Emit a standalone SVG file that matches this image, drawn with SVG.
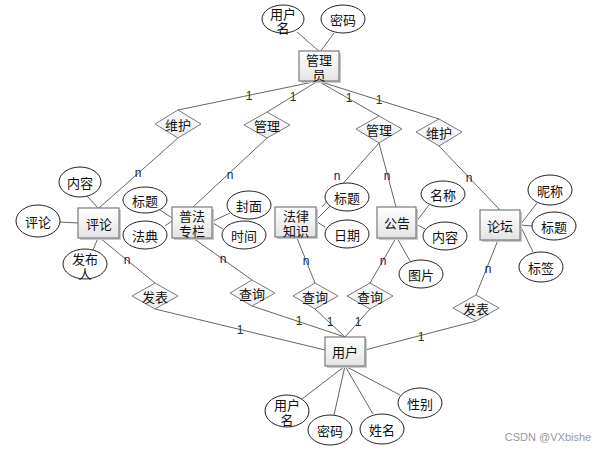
<svg xmlns="http://www.w3.org/2000/svg" width="610" height="451" viewBox="0 0 610 451">
<defs>
<linearGradient id="gb" x1="0" y1="0" x2="0" y2="1"><stop offset="0" stop-color="#ffffff"/><stop offset="1" stop-color="#e4e4e4"/></linearGradient>
<linearGradient id="gd" x1="0" y1="0" x2="0" y2="1"><stop offset="0" stop-color="#ffffff"/><stop offset="1" stop-color="#ececec"/></linearGradient>
</defs>
<style>
text{font-family:"Noto Sans CJK SC","Liberation Sans",sans-serif;font-size:13px;fill:#111;text-anchor:middle;dominant-baseline:central}
.lbl{font-family:"Liberation Sans",sans-serif;font-size:12px}
.n{fill:#1a1a5a}
.one{fill:#1a3a1a}
.box{fill:url(#gb);stroke:#7a7a7a;stroke-width:1.2}
.sh{fill:#c8c8c8}
.dia{fill:url(#gd);stroke:#7a7a7a;stroke-width:1}
.att{fill:#fff;stroke:#222;stroke-width:1}
.ln{stroke:#666;stroke-width:1;fill:none}
</style>
<rect width="610" height="451" fill="#fff"/>
<g id="connectors">
<path class="ln" d="M297,32L320,52M334,33L320,52"/>
<path class="ln" d="M318,81L178,110M318,81L267,112M318,81L379,116M318,81L439,119"/>
<path class="ln" d="M178,138L99,208M267,138L193,207M379,143L322,207M379,143L396,207M439,146L500,210"/>
<path class="ln" d="M87,196L98,208M60,222L78,223M93,250L98,238"/>
<path class="ln" d="M160,210L172,218M165,226L172,221M230,213L213,221M223,229L213,223"/>
<path class="ln" d="M330,206L317,219M325,227L317,222"/>
<path class="ln" d="M429,205L416,222M425,229L416,224M410,261L397,238"/>
<path class="ln" d="M537,203L520,225M532,226L520,225M533,252L520,225"/>
<path class="ln" d="M302,399L345,366M334,415L345,366M373,414L345,366M400,395L345,366"/>
<path class="ln" d="M100,238L155,283M155,309L325,350M193,238L252,280M252,306L345,337M297,238L315,283M315,309L345,337M396,238L370,283M370,309L345,337M498,240L476,295M476,321L365,350"/>
<text class="lbl one" x="249" y="96">1</text>
<text class="lbl one" x="293" y="97">1</text>
<text class="lbl one" x="349" y="98">1</text>
<text class="lbl one" x="379" y="100">1</text>
<text class="lbl n" x="138" y="173">n</text>
<text class="lbl n" x="230" y="175">n</text>
<text class="lbl n" x="337" y="176">n</text>
<text class="lbl n" x="387" y="176">n</text>
<text class="lbl n" x="469" y="178">n</text>
<text class="lbl n" x="127" y="260">n</text>
<text class="lbl n" x="223" y="259">n</text>
<text class="lbl n" x="306" y="261">n</text>
<text class="lbl n" x="383" y="261">n</text>
<text class="lbl n" x="488" y="269">n</text>
<text class="lbl one" x="240" y="330">1</text>
<text class="lbl one" x="299" y="321">1</text>
<text class="lbl one" x="330" y="322">1</text>
<text class="lbl one" x="358" y="322">1</text>
<text class="lbl one" x="421" y="337">1</text>
</g>
<g id="guanliyuan"><rect class="sh" x="301" y="53" width="40" height="30"/><rect class="box" x="299" y="51" width="40" height="30"/><text x="319" y="59">管理<tspan x="319" dy="15">员</tspan></text></g>
<g id="pinglun"><rect class="sh" x="80" y="210" width="41" height="30"/><rect class="box" x="78" y="208" width="41" height="30"/><text x="99" y="223">评论</text></g>
<g id="pufa"><rect class="sh" x="174" y="209" width="40" height="31"/><rect class="box" x="172" y="207" width="40" height="31"/><text x="192" y="215">普法<tspan x="192" dy="15">专栏</tspan></text></g>
<g id="falv"><rect class="sh" x="277" y="209" width="41" height="30"/><rect class="box" x="275" y="207" width="41" height="30"/><text x="296" y="215">法律<tspan x="296" dy="15">知识</tspan></text></g>
<g id="gonggao"><rect class="sh" x="379" y="209" width="39" height="31"/><rect class="box" x="377" y="207" width="39" height="31"/><text x="397" y="222">公告</text></g>
<g id="luntan"><rect class="sh" x="482" y="212" width="40" height="30"/><rect class="box" x="480" y="210" width="40" height="30"/><text x="500" y="225">论坛</text></g>
<g id="yonghu"><rect class="sh" x="327" y="339" width="40" height="29"/><rect class="box" x="325" y="337" width="40" height="29"/><text x="345" y="351">用户</text></g>
<g id="d_weihu1"><polygon class="dia" points="155,124 178,110 201,124 178,138"/><text x="178" y="124">维护</text></g>
<g id="d_guanli1"><polygon class="dia" points="244,125 267,112 290,125 267,138"/><text x="267" y="125">管理</text></g>
<g id="d_guanli2"><polygon class="dia" points="356,129 379,116 402,129 379,143"/><text x="379" y="129">管理</text></g>
<g id="d_weihu2"><polygon class="dia" points="416,132 439,119 462,132 439,146"/><text x="439" y="132">维护</text></g>
<g id="d_fabiao1"><polygon class="dia" points="132,296 155,283 178,296 155,309"/><text x="155" y="296">发表</text></g>
<g id="d_chaxun1"><polygon class="dia" points="230,293 252,280 275,293 252,306"/><text x="252" y="293">查询</text></g>
<g id="d_chaxun2"><polygon class="dia" points="293,296 315,283 338,296 315,309"/><text x="315" y="296">查询</text></g>
<g id="d_chaxun3"><polygon class="dia" points="347,296 370,283 393,296 370,309"/><text x="370" y="296">查询</text></g>
<g id="d_fabiao2"><polygon class="dia" points="453,308 476,295 499,308 476,321"/><text x="476" y="308">发表</text></g>
<g id="a_gly_name"><ellipse class="att" cx="283" cy="19" rx="21" ry="14"/><text x="283" y="13">用户<tspan x="283" dy="14">名</tspan></text></g>
<g id="a_gly_pwd"><ellipse class="att" cx="343" cy="19" rx="22" ry="14"/><text x="343" y="19">密码</text></g>
<g id="a_pl_nr"><ellipse class="att" cx="80" cy="182" rx="21" ry="15"/><text x="80" y="182">内容</text></g>
<g id="a_pl_pl"><ellipse class="att" cx="38" cy="221" rx="22" ry="16"/><text x="38" y="221">评论</text></g>
<g id="a_pl_fbr"><ellipse class="att" cx="85" cy="264" rx="22" ry="15"/><text x="85" y="258">发布<tspan x="85" dy="15">人</tspan></text></g>
<g id="a_pf_bt"><ellipse class="att" cx="145" cy="200" rx="22" ry="13"/><text x="145" y="200">标题</text></g>
<g id="a_pf_fd"><ellipse class="att" cx="145" cy="235" rx="22" ry="14"/><text x="145" y="235">法典</text></g>
<g id="a_pf_fm"><ellipse class="att" cx="249" cy="205" rx="22" ry="14"/><text x="249" y="205">封面</text></g>
<g id="a_pf_sj"><ellipse class="att" cx="244" cy="235" rx="22" ry="14"/><text x="244" y="235">时间</text></g>
<g id="a_fl_bt"><ellipse class="att" cx="347" cy="197" rx="22" ry="14"/><text x="347" y="197">标题</text></g>
<g id="a_fl_rq"><ellipse class="att" cx="347" cy="234" rx="22" ry="14"/><text x="347" y="234">日期</text></g>
<g id="a_gg_mc"><ellipse class="att" cx="443" cy="194" rx="22" ry="13"/><text x="443" y="194">名称</text></g>
<g id="a_gg_nr"><ellipse class="att" cx="445" cy="236" rx="22" ry="14"/><text x="445" y="236">内容</text></g>
<g id="a_gg_tp"><ellipse class="att" cx="421" cy="274" rx="22" ry="14"/><text x="421" y="274">图片</text></g>
<g id="a_lt_nc"><ellipse class="att" cx="550" cy="190" rx="22" ry="15"/><text x="550" y="190">昵称</text></g>
<g id="a_lt_bt"><ellipse class="att" cx="554" cy="226" rx="22" ry="14"/><text x="554" y="226">标题</text></g>
<g id="a_lt_bq"><ellipse class="att" cx="541" cy="267" rx="22" ry="15"/><text x="541" y="267">标签</text></g>
<g id="a_yh_name"><ellipse class="att" cx="287" cy="411" rx="22" ry="16"/><text x="287" y="404">用户<tspan x="287" dy="15">名</tspan></text></g>
<g id="a_yh_pwd"><ellipse class="att" cx="330" cy="430" rx="22" ry="15"/><text x="330" y="430">密码</text></g>
<g id="a_yh_xm"><ellipse class="att" cx="382" cy="429" rx="22" ry="15"/><text x="382" y="429">姓名</text></g>
<g id="a_yh_xb"><ellipse class="att" cx="420" cy="403" rx="22" ry="15"/><text x="420" y="403">性别</text></g>
<text x="548" y="437" style="font-family:'Liberation Sans',sans-serif;font-size:11px;fill:#999">CSDN @VXbishe</text>
</svg>
